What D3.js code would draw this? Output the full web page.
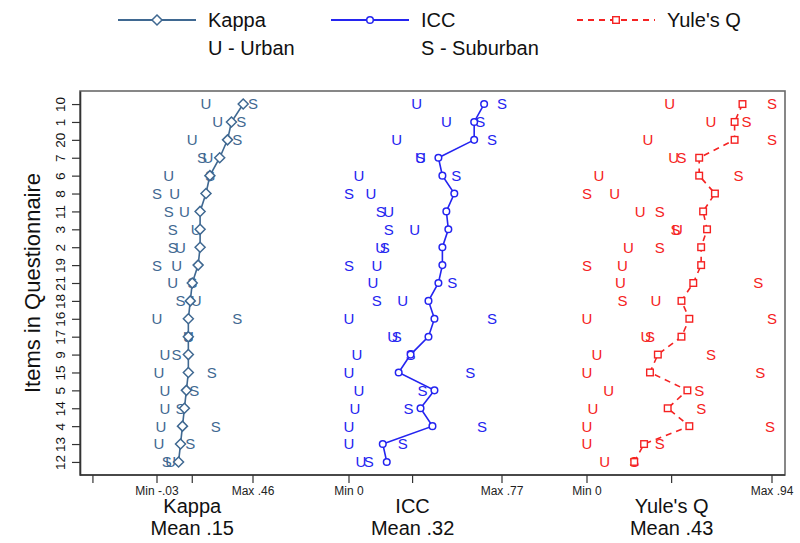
<!DOCTYPE html>
<html>
<head>
<meta charset="utf-8">
<script src="https://cdn.jsdelivr.net/npm/d3@7"></script>
<style>
  html, body { margin: 0; padding: 0; background: #fff; }
  svg { display: block; font-family: "Liberation Sans", Arial, Helvetica, sans-serif; }
</style>
</head>
<body>
<svg id="chart" width="800" height="543"></svg>
<script>
// ---------------- data ----------------
const items = ["10","1","20","7","6","8","11","3","2","19","21","18","16","17","9","15","5","14","4","13","12"];

const kappaAll = [0.41,0.35,0.33,0.29,0.24,0.22,0.19,0.19,0.19,0.18,0.15,0.14,0.13,0.13,0.13,0.13,0.12,0.11,0.10,0.09,0.08];
const kappaU   = [0.22,0.28,0.15,0.23,0.03,0.06,0.11,0.17,0.09,0.07,0.05,0.17,-0.03,0.13,0.01,-0.02,0.01,0.01,-0.01,-0.02,0.04];
const kappaS   = [0.46,0.40,0.38,0.20,0.24,-0.03,0.03,0.05,0.05,-0.03,0.15,0.09,0.38,0.13,0.07,0.25,0.16,0.09,0.27,0.14,0.02];

const iccAll = [0.68,0.63,0.63,0.45,0.47,0.53,0.49,0.50,0.47,0.47,0.45,0.40,0.43,0.40,0.31,0.25,0.43,0.36,0.42,0.17,0.19];
const iccU   = [0.34,0.49,0.24,0.36,0.05,0.11,0.20,0.33,0.16,0.14,0.12,0.27,0.00,0.22,0.04,0.00,0.05,0.03,0.00,0.00,0.06];
const iccS   = [0.77,0.66,0.72,0.36,0.54,0.00,0.16,0.20,0.18,0.00,0.52,0.14,0.72,0.24,0.31,0.61,0.37,0.30,0.67,0.27,0.10];

const yuleAll = [0.79,0.75,0.75,0.57,0.57,0.65,0.59,0.61,0.58,0.58,0.54,0.48,0.52,0.48,0.36,0.32,0.51,0.41,0.52,0.29,0.24];
const yuleU   = [0.42,0.63,0.31,0.44,0.06,0.14,0.27,0.46,0.21,0.18,0.17,0.35,0.00,0.30,0.05,0.00,0.11,0.03,0.00,0.00,0.09];
const yuleS   = [0.94,0.81,0.94,0.48,0.77,0.00,0.37,0.45,0.37,0.00,0.87,0.18,0.94,0.32,0.63,0.88,0.57,0.58,0.93,0.37,0.24];

const measureNames = ["Kappa","ICC","Yule's Q"];
const measureMin   = [-0.03, 0, 0];
const measureMax   = [0.46, 0.77, 0.94];
const measureMean  = [0.15, 0.32, 0.43];
const minLabels    = ["Min -.03","Min 0","Min 0"];
const maxLabels    = ["Max .46","Max .77","Max .94"];
const meanLabels   = ["Mean .15","Mean .32","Mean .43"];
const legendNotes  = ["U - Urban","S - Suburban"];
const axisTitleY   = "Items in Questionnaire";

// ---------------- layout ----------------
const svg = d3.select("#chart");
const plot = {left: 80, right: 785, top: 91, bottom: 475};
const colors = ["#3f6891", "#2424f0", "#f52222"];
const panelRanges = [[157, 253], [349, 502], [587, 772]];

const y = d3.scalePoint().domain(items).range([plot.top, plot.bottom]).padding(0.73);
const xs = measureNames.map((m, i) => d3.scaleLinear().domain([measureMin[i], measureMax[i]]).range(panelRanges[i]));

const series = [
  {all: kappaAll, U: kappaU, S: kappaS, shape: "diamond", dash: null},
  {all: iccAll,   U: iccU,   S: iccS,   shape: "circle",  dash: null},
  {all: yuleAll,  U: yuleU,  S: yuleS,  shape: "square",  dash: "6,5"}
];

// frame
svg.append("rect")
  .attr("x", plot.left).attr("y", plot.top)
  .attr("width", plot.right - plot.left).attr("height", plot.bottom - plot.top)
  .attr("fill", "none").attr("stroke", "#6a6a6a").attr("stroke-width", 1.6);

// y axis
const yAxis = d3.axisLeft(y).tickSize(8).tickSizeOuter(0);
const gy = svg.append("g").attr("transform", `translate(${plot.left},0)`).call(yAxis);
gy.select(".domain").attr("stroke", "#333").attr("stroke-width", 1.6);
gy.selectAll(".tick line").attr("stroke", "#333").attr("stroke-width", 1.2);
gy.selectAll(".tick text")
  .attr("transform", "rotate(-90)")
  .attr("x", 0).attr("y", -15).attr("dy", 0)
  .attr("text-anchor", "middle")
  .attr("font-size", 13.5).attr("fill", "#111")
  .attr("font-family", "Liberation Sans, Arial, sans-serif");

svg.append("text")
  .attr("transform", `translate(40,${(plot.top + plot.bottom) / 2}) rotate(-90)`)
  .attr("text-anchor", "middle")
  .attr("font-size", 22).attr("fill", "#111")
  .text(axisTitleY);

// x axis: bottom line + ticks
svg.append("line")
  .attr("x1", plot.left).attr("x2", plot.right)
  .attr("y1", plot.bottom).attr("y2", plot.bottom)
  .attr("stroke", "#333").attr("stroke-width", 1.6);

const tickLen = 8;
function xTick(xpos) {
  svg.append("line")
    .attr("x1", xpos).attr("x2", xpos)
    .attr("y1", plot.bottom).attr("y2", plot.bottom + tickLen)
    .attr("stroke", "#333").attr("stroke-width", 1.2);
}
xTick(xs[0](-0.357));
measureNames.forEach((m, i) => {
  const sc = xs[i];
  [measureMin[i], measureMean[i], measureMax[i]].forEach(v => xTick(sc(v)));
  svg.append("text").attr("x", sc(measureMin[i])).attr("y", plot.bottom + 20)
    .attr("text-anchor", "middle").attr("font-size", 12).attr("fill", "#222").text(minLabels[i]);
  svg.append("text").attr("x", sc(measureMax[i])).attr("y", plot.bottom + 20)
    .attr("text-anchor", "middle").attr("font-size", 12).attr("fill", "#222").text(maxLabels[i]);
  const t = svg.append("text").attr("text-anchor", "middle").attr("font-size", 20).attr("fill", "#111");
  t.append("tspan").attr("x", sc(measureMean[i])).attr("y", plot.bottom + 38).text(m);
  t.append("tspan").attr("x", sc(measureMean[i])).attr("y", plot.bottom + 60).text(meanLabels[i]);
});

// markers
function drawMarker(g, shape, cx, cy, color) {
  if (shape === "diamond") {
    const r = 5;
    g.append("path").attr("d", `M${cx},${cy - r}L${cx + r},${cy}L${cx},${cy + r}L${cx - r},${cy}Z`)
      .attr("fill", "#fff").attr("stroke", color).attr("stroke-width", 1.5);
  } else if (shape === "circle") {
    g.append("circle").attr("cx", cx).attr("cy", cy).attr("r", 3.3)
      .attr("fill", "#fff").attr("stroke", color).attr("stroke-width", 1.5);
  } else {
    const s = 3.3;
    g.append("rect").attr("x", cx - s).attr("y", cy - s).attr("width", 2 * s).attr("height", 2 * s)
      .attr("fill", "#fff").attr("stroke", color).attr("stroke-width", 1.4);
  }
}

series.forEach((s, i) => {
  const sc = xs[i];
  const g = svg.append("g");
  const color = colors[i];
  // U / S letter labels
  items.forEach((it, k) => {
    g.append("text").attr("x", sc(s.U[k])).attr("y", y(it)).attr("dy", "0.36em")
      .attr("text-anchor", "middle").attr("font-size", 15).attr("fill", color).text("U");
    g.append("text").attr("x", sc(s.S[k])).attr("y", y(it)).attr("dy", "0.36em")
      .attr("text-anchor", "middle").attr("font-size", 15).attr("fill", color).text("S");
  });
  // connecting line
  const line = d3.line().x((d, k) => sc(d)).y((d, k) => y(items[k]));
  g.append("path").datum(s.all).attr("d", line)
    .attr("fill", "none").attr("stroke", color).attr("stroke-width", 1.6)
    .attr("stroke-dasharray", s.dash);
  s.all.forEach((v, k) => drawMarker(g, s.shape, sc(v), y(items[k]), color));
});

// legend
const legendX = [118, 331, 577];
const legendY = 20;
measureNames.forEach((m, i) => {
  const g = svg.append("g");
  const x0 = legendX[i], x1 = x0 + 78;
  g.append("line").attr("x1", x0).attr("x2", x1).attr("y1", legendY).attr("y2", legendY)
    .attr("stroke", colors[i]).attr("stroke-width", 1.8).attr("stroke-dasharray", series[i].dash);
  drawMarker(g, series[i].shape, (x0 + x1) / 2, legendY, colors[i]);
  g.append("text").attr("x", x1 + 12).attr("y", legendY).attr("dy", "0.36em")
    .attr("font-size", 20).attr("fill", "#111").text(m);
});
legendNotes.forEach((n, i) => {
  svg.append("text").attr("x", legendX[i] + 90).attr("y", legendY + 28).attr("dy", "0.36em")
    .attr("font-size", 20).attr("fill", "#111").text(n);
});
</script>
</body>
</html>
